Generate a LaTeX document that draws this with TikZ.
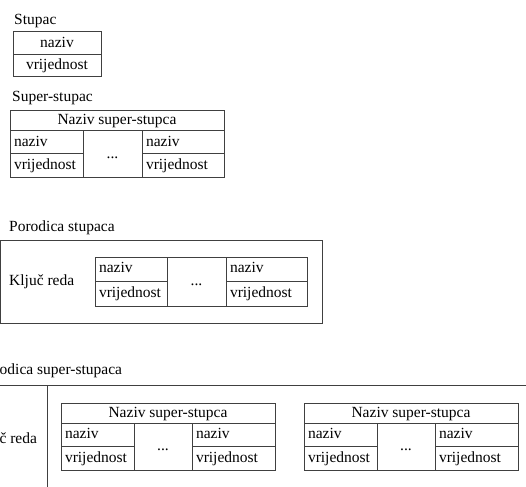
\documentclass[tikz,border=0pt]{standalone}
\usepackage{fontspec}
\setmainfont{Liberation Serif}
\usetikzlibrary{positioning}
\begin{document}
\begin{tikzpicture}[
                        x=1pt, y=-1pt,
                        every node/.style={font=\fontsize{15.5}{19}\selectfont},
                        cell/.style={rectangle, draw=black!75, line width=1pt, anchor=north west, outer sep=0pt,
                                     inner xsep=4pt, inner ysep=0pt, text height=11pt, text depth=3.5pt},
                        lcell/.style={cell, text width=#1, align=left},
                        title/.style={anchor=base west, inner sep=0pt}
                    ]
                    \useasboundingbox (0,0) rectangle (526,486);
                    \clip (0,0) rectangle (526,486);

                    % Stupac
                    \node [title] (tStupac) at (14,25) {Stupac};
                    \node [cell, minimum width=88pt, minimum height=23pt] (sNaziv) at (13,32) {naziv};
                    \node [cell, minimum width=88pt, minimum height=22pt] (sVrij) at (sNaziv.south west) {vrijednost};

                    % Super-stupac
                    \node [title] (tSuper) at (12,102) {Super-stupac};
                    \node [cell, minimum width=214pt, minimum height=20pt] (ssHead) at (10,111) {Naziv super-stupca};
                    \node [lcell=65pt, minimum height=23pt] (ssN1) at (ssHead.south west) {naziv};
                    \node [lcell=65pt, minimum height=24pt] (ssV1) at (ssN1.south west) {vrijednost};
                    \node [cell, minimum width=59pt, minimum height=47pt] (ssDots) at (ssN1.north east) {...};
                    \node [lcell=74pt, minimum height=23pt] (ssN2) at (ssDots.north east) {naziv};
                    \node [lcell=74pt, minimum height=24pt] (ssV2) at (ssN2.south west) {vrijednost};

                    % Porodica stupaca
                    \node [title] (tPorodica) at (9,231) {Porodica stupaca};
                    \node [cell, minimum width=322pt, minimum height=83pt] (ps) at (0.5,240) {};
                    \node [title] (psKey) at (9,285) {Ključ reda};
                    \node [lcell=64pt, minimum height=24pt] (psN1) at (95,257) {naziv};
                    \node [lcell=64pt, minimum height=25pt] (psV1) at (psN1.south west) {vrijednost};
                    \node [cell, minimum width=59pt, minimum height=49pt] (psDots) at (psN1.north east) {...};
                    \node [lcell=73pt, minimum height=24pt] (psN2) at (psDots.north east) {naziv};
                    \node [lcell=73pt, minimum height=25pt] (psV2) at (psN2.south west) {vrijednost};

                    % Porodica super-stupaca
                    \node [title] (tPorodicaSuper) at (-22,374) {Porodica super-stupaca};
                    \node [cell, minimum width=85pt, minimum height=110pt] (pssKey) at (-38,385) {Ključ reda};
                    \node [cell, minimum width=520pt, minimum height=110pt] (pssBody) at (pssKey.north east) {};
                    \foreach \x/\i in {61/1, 304/2} {
                        \node [cell, minimum width=214pt, minimum height=20.5pt] (h\i) at (\x,403) {Naziv super-stupca};
                        \node [lcell=65pt, minimum height=23pt] (n\i) at (h\i.south west) {naziv};
                        \node [lcell=65pt, minimum height=24pt] (v\i) at (n\i.south west) {vrijednost};
                        \node [cell, minimum width=58pt, minimum height=47pt] (d\i) at (n\i.north east) {...};
                        \node [lcell=75pt, minimum height=23pt] (m\i) at (d\i.north east) {naziv};
                        \node [lcell=75pt, minimum height=24pt] (w\i) at (m\i.south west) {vrijednost};
                    }
                \end{tikzpicture}
\end{document}
